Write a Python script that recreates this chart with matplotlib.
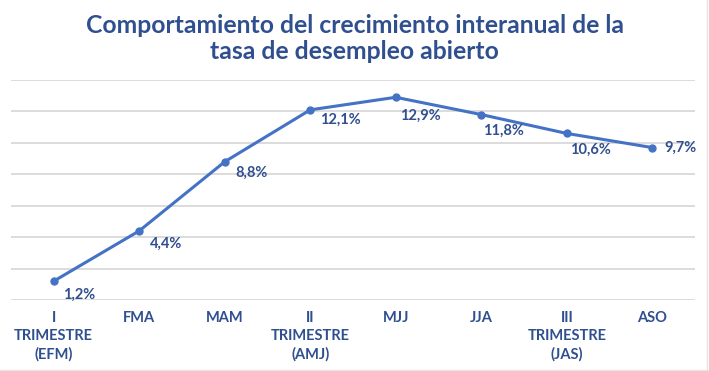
import numpy as np
import matplotlib.pyplot as plt

periodos = ['I\nTRIMESTRE\n(EFM)', 'FMA', 'MAM', 'II\nTRIMESTRE\n(AMJ)',
            'MJJ', 'JJA', 'III\nTRIMESTRE\n(JAS)', 'ASO']
tasa = [1.2, 4.4, 8.8, 12.1, 12.9, 11.8, 10.6, 9.7]
etiquetas = ['1,2%', '4,4%', '8,8%', '12,1%', '12,9%', '11,8%', '10,6%', '9,7%']
# desplazamiento de cada etiqueta (puntos)
offs = [(7, -5), (8, -4), (8, -3), (7, -2), (3, -8), (1, -7), (2, -7), (9, 0)]

azul = '#4472C4'
texto = '#2F4F8F'
plt.rcParams['font.family'] = ['Lato', 'DejaVu Sans']

fig = plt.figure(figsize=(7.09, 3.71), dpi=100)
ax = fig.add_axes([11/709, 1 - 300/371, (695-11)/709, 220/371])

x = np.arange(len(tasa))
ax.plot(x, tasa, color=azul, lw=2.2, marker='o', ms=5, zorder=3)
for xi, yi, t, (dx, dy) in zip(x, tasa, etiquetas, offs):
    ax.annotate(t, (xi, yi), xytext=(dx, dy), textcoords='offset points',
                ha='left', va='top' if dy < 0 else 'center',
                fontsize=10.5, fontweight='bold', color=texto)

ax.set_xlim(-0.5, 7.5)
ax.set_ylim(0, 14)
ax.set_yticks(np.arange(0, 15, 2))
ax.set_yticklabels([])
ax.grid(axis='y', color='#D9D9D9', lw=1.3)
ax.set_axisbelow(True)
for s in ax.spines.values():
    s.set_visible(False)
ax.tick_params(length=0, pad=8)
ax.set_xticks(x)
ax.set_xticklabels(periodos, fontsize=10.5, fontweight='bold', color=texto,
                   linespacing=1.35)

fig.text(0.5, 0.897, 'Comportamiento del crecimiento interanual de la\ntasa de desempleo abierto',
         ha='center', va='center', fontsize=17.8, fontweight='bold', color=texto,
         linespacing=1.15)

# borde tenue a la derecha y abajo
fig.add_artist(plt.Line2D([0.997, 0.997], [0, 1], color='#E5E5E5', lw=1))
fig.add_artist(plt.Line2D([0, 1], [0.004, 0.004], color='#E5E5E5', lw=1))

fig.savefig('out.png', dpi=100)
